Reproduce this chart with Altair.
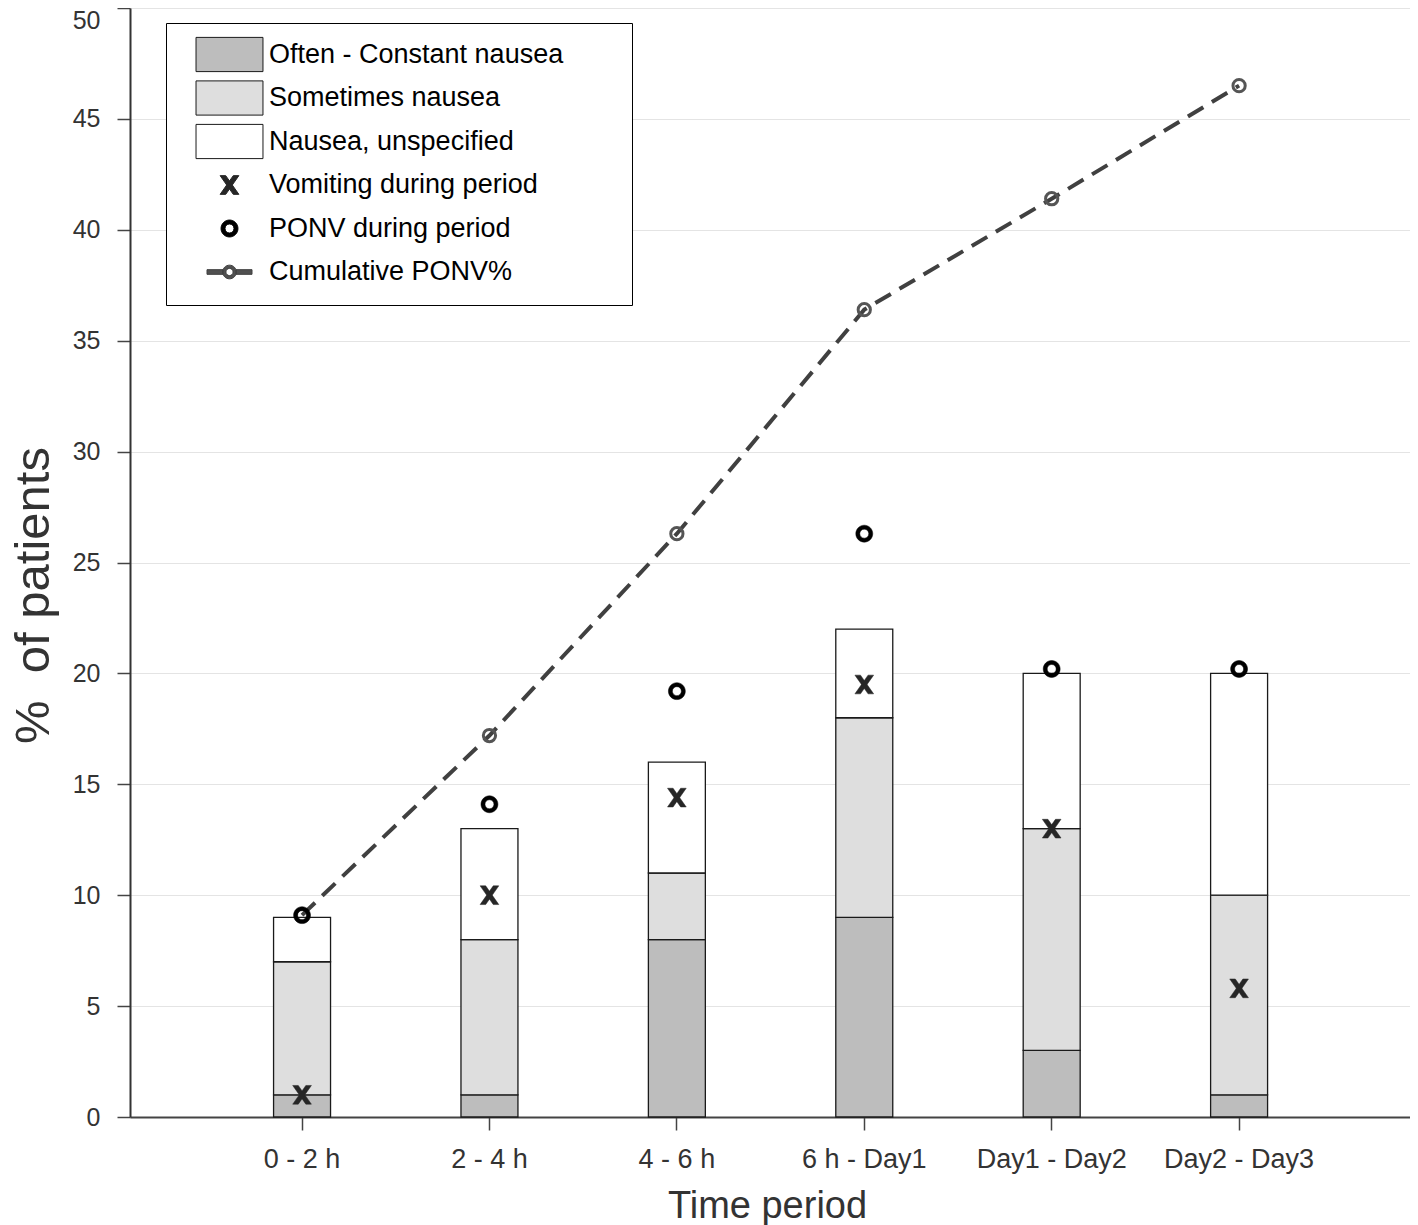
import altair as alt
import pandas as pd

FONT = "Liberation Sans"
NB = "\u00a0"

periods = ["0 - 2 h", "2 - 4 h", "4 - 6 h", "6 h - Day1", "Day1 - Day2", "Day2 - Day3"]
often = [1, 1, 8, 9, 3, 1]
sometimes = [6, 7, 3, 9, 10, 9]
unspecified = [2, 5, 5, 4, 7, 10]
vomiting = [1.0, 10.0, 14.4, 19.5, 13.0, 5.8]
ponv = [9.1, 14.1, 19.2, 26.3, 20.2, 20.2]
cumulative = [9.1, 17.2, 26.3, 36.4, 41.4, 46.5]

series_names = ["Often - Constant nausea", "Sometimes nausea", "Nausea, unspecified",
                "Vomiting during period", "PONV during period", "Cumulative PONV%"]
series_fill = ["#bdbdbd", "#dedede", "#ffffff", "#262626", "#000000", "#505050"]
series_stroke = ["#1a1a1a", "#1a1a1a", "#1a1a1a", "#262626", "#000000", "#404040"]

# symbol paths (unit = half of sqrt(symbol size)); bare moves keep row heights equal
RECT = "M-1.86,-0.95H1.86V0.95H-1.86Z"
XGLYPH = ("M0,-0.95M0,0.95 "
          "M-0.52,-0.52L-0.21,-0.52L0.52,0.52L0.21,0.52Z "
          "M0.21,-0.52L0.52,-0.52L-0.21,0.52L-0.52,0.52Z")
RING = ("M0,-0.95M0,0.95 "
        "M0.47,0A0.47,0.47 0 1 1 -0.47,0A0.47,0.47 0 1 1 0.47,0Z "
        "M0.25,0A0.25,0.25 0 1 0 -0.25,0A0.25,0.25 0 1 0 0.25,0Z")
CUM = ("M0,-0.95M0,0.95 "
       "M-1.25,-0.13H-0.36V0.13H-1.25Z M0.36,-0.13H1.25V0.13H0.36Z "
       "M0.38,0A0.38,0.38 0 1 1 -0.38,0A0.38,0.38 0 1 1 0.38,0Z "
       "M0.2,0A0.2,0.2 0 1 0 -0.2,0A0.2,0.2 0 1 0 0.2,0Z")
series_shape = [RECT, RECT, RECT, XGLYPH, RING, CUM]

# ---- tables ----
bar_rows = []
for i, p in enumerate(periods):
    for k, (name, vals) in enumerate(zip(series_names[:3], [often, sometimes, unspecified])):
        bar_rows.append({"period": p, "series": name, "value": vals[i], "ord": k})
bars_df = pd.DataFrame(bar_rows)

pt_rows = []
for i, p in enumerate(periods):
    pt_rows.append({"period": p, "series": series_names[3], "value": vomiting[i]})
    pt_rows.append({"period": p, "series": series_names[4], "value": ponv[i]})
pts_df = pd.DataFrame(pt_rows)

cum_df = pd.DataFrame({"period": periods, "series": series_names[5], "value": cumulative})

legend = alt.Legend(
    orient="none", legendX=36, legendY=15, direction="vertical",
    padding=13, rowPadding=4.5, symbolSize=1296, symbolOffset=32, labelOffset=21,
    symbolStrokeWidth=1, labelFontSize=27, labelFont=FONT, labelColor="#000000",
    labelLimit=500, strokeColor="#000000", fillColor="#ffffff",
    title="MMM", titleOrient="right", titleFontSize=22, titleColor="#ffffff",
    titlePadding=1,
)

fill_enc = alt.Fill("series:N", scale=alt.Scale(domain=series_names, range=series_fill),
                    legend=legend)
stroke_enc = alt.Stroke("series:N", scale=alt.Scale(domain=series_names, range=series_stroke),
                        legend=legend)
shape_enc = alt.Shape("series:N", scale=alt.Scale(domain=series_names, range=series_shape),
                      legend=legend)

x_enc = alt.X(
    "period:N", sort=periods,
    scale=alt.Scale(domain=periods, paddingInner=0.696, paddingOuter=0.763, align=0.502),
    axis=alt.Axis(labelAngle=0, grid=False, domainColor="#444444", domainWidth=2,
                  tickColor="#444444", tickSize=13, tickWidth=1.5, labelFontSize=27,
                  labelFont=FONT, labelColor="#333333", labelPadding=16,
                  title="Time period", titleFontSize=38, titleFont=FONT,
                  titleFontWeight="normal", titleColor="#333333", titlePadding=15,
                  titleX=637),
)

y_axis = alt.Axis(values=list(range(0, 51, 5)), grid=True, gridColor="#e4e4e4", gridWidth=1,
                  domainColor="#333333", domainWidth=2, tickColor="#444444", tickSize=13,
                  tickWidth=1.5, labelFontSize=25, labelFont=FONT, labelColor="#333333",
                  labelPadding=17,
                  labelBaseline={"condition": {"test": "datum.value == 50", "value": "top"},
                                 "value": "middle"},
                  title="%" + NB + " of patients", titleFontSize=49,
                  titleFont=FONT, titleFontWeight="normal", titleColor="#333333",
                  titlePadding=14, titleY=587)
y_scale = alt.Scale(domain=[0, 50], nice=False)

bars = alt.Chart(bars_df).mark_bar(strokeWidth=1.3).encode(
    x=x_enc,
    y=alt.Y("value:Q", stack="zero", scale=y_scale, axis=y_axis),
    fill=fill_enc,
    stroke=stroke_enc,
    order=alt.Order("ord:Q", sort="ascending"),
)

line = alt.Chart(cum_df).mark_line(strokeWidth=4, strokeDash=[18, 10]).encode(
    x=alt.X("period:N", sort=periods),
    y=alt.Y("value:Q"),
    stroke=stroke_enc,
)

markers = alt.Chart(cum_df).mark_point(shape="circle", size=150, filled=False,
                                       stroke="#555555", strokeWidth=3, opacity=1).encode(
    x=alt.X("period:N", sort=periods),
    y=alt.Y("value:Q"),
)

points = alt.Chart(pts_df).mark_point(filled=True, opacity=1, size=1296, strokeWidth=0.5).encode(
    x=alt.X("period:N", sort=periods),
    y=alt.Y("value:Q"),
    fill=fill_enc,
    stroke=stroke_enc,
    shape=shape_enc,
)

chart = alt.layer(bars, line, markers, points).properties(
    width=1280, height=1109,
    autosize=alt.AutoSizeParams(type="none"),
    padding={"left": 122, "top": 0, "right": 0, "bottom": 108},
).configure_view(strokeWidth=0).configure(background="#ffffff")

chart.save("out.html", embed_options={"renderer": "svg", "actions": False})
